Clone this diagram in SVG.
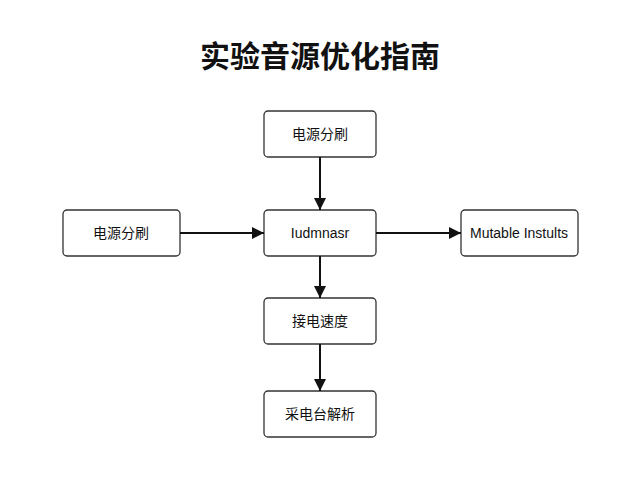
<svg xmlns="http://www.w3.org/2000/svg" width="640" height="480" viewBox="0 0 640 480">
<defs>
<style>
.b{fill:#fff;stroke:#333;stroke-width:1.3}
.t{font-family:"Liberation Sans","Noto Sans CJK SC",sans-serif;font-size:14px;fill:#111;text-anchor:middle;dominant-baseline:central}
.c{stroke:#111;stroke-width:2;fill:none;marker-end:url(#a)}
</style>
<marker id="a" viewBox="0 0 10 10" refX="10" refY="5" markerWidth="6" markerHeight="6" orient="auto" markerUnits="strokeWidth"><path d="M0,0L10,5L0,10z" fill="#111"/></marker>
</defs>
<rect width="640" height="480" fill="#fff"/>
<text x="320" y="54" style="font-family:'Noto Sans CJK SC',sans-serif;font-size:30px;font-weight:bold;text-anchor:middle;dominant-baseline:central;fill:#111">实验音源优化指南</text>
<g id="n1"><rect class="b" x="264" y="111" width="112" height="46" rx="4"/><text class="t" x="320" y="134">电源分刷</text></g>
<g id="n2"><rect class="b" x="264" y="210" width="112" height="46" rx="4"/><text class="t" x="320" y="233">Iudmnasr</text></g>
<g id="n3"><rect class="b" x="63" y="210" width="117" height="46" rx="4"/><text class="t" x="121" y="233">电源分刷</text></g>
<g id="n4"><rect class="b" x="461" y="210" width="117" height="46" rx="4"/><text class="t" x="519" y="233">Mutable Instults</text></g>
<g id="n5"><rect class="b" x="264" y="298" width="112" height="46" rx="4"/><text class="t" x="320" y="321">接电速度</text></g>
<g id="n6"><rect class="b" x="264" y="391" width="112" height="46" rx="4"/><text class="t" x="320" y="414">采电台解析</text></g>
<g id="connectors">
<path class="c" d="M320,157V210"/>
<path class="c" d="M180,233H264"/>
<path class="c" d="M376,233H461"/>
<path class="c" d="M320,256V298"/>
<path class="c" d="M320,344V391"/>
</g>
</svg>
